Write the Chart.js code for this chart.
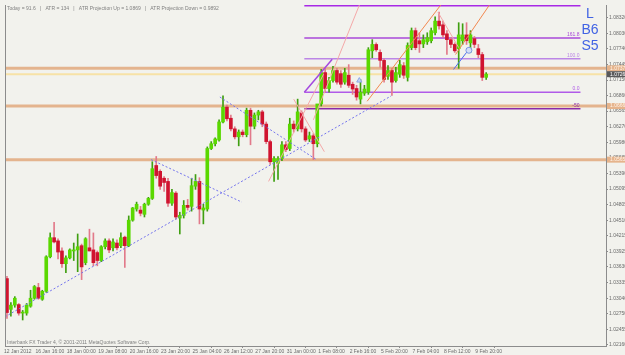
<!DOCTYPE html>
<html>
<head>
<meta charset="utf-8">
<script src="https://cdn.jsdelivr.net/npm/chart.js@4.4.1/dist/chart.umd.min.js"></script>
<style>
html, body { margin: 0; padding: 0; background: #f2f2ed; }
canvas { display: block; }
</style>
</head>
<body>
<canvas id="chart" width="625" height="355"></canvas>
<script>
// H4 bars, 12 Jan 2012 -> 9 Feb 2012
const opens = [
  1.0341, 1.0283, 1.0291, 1.0292, 1.0276, 1.0276, 1.0289, 1.0304, 1.0324, 1.0302,
  1.0317, 1.0382, 1.0418, 1.0412, 1.0393, 1.0369, 1.0380, 1.0393, 1.0395, 1.0403,
  1.0371, 1.0399, 1.0395, 1.0390, 1.0375, 1.0401, 1.0412, 1.0399, 1.0408, 1.0403,
  1.0419, 1.0403, 1.0451, 1.0472, 1.0470, 1.0462, 1.0481, 1.0492, 1.0554, 1.0543,
  1.0530, 1.0524, 1.0483, 1.0502, 1.0455, 1.0460, 1.0479, 1.0477, 1.0515, 1.0524,
  1.0470, 1.0472, 1.0586, 1.0595, 1.0602, 1.0636, 1.0664, 1.0643, 1.0623, 1.0608,
  1.0617, 1.0612, 1.0658, 1.0628, 1.0649, 1.0655, 1.0632, 1.0599, 1.0561, 1.0558,
  1.0567, 1.0593, 1.0586, 1.0632, 1.0623, 1.0653, 1.0623, 1.0604, 1.0610, 1.0595,
  1.0670, 1.0729, 1.0699, 1.0714, 1.0733, 1.0727, 1.0711, 1.0724, 1.0707, 1.0699,
  1.0679, 1.0690, 1.0692, 1.0770, 1.0782, 1.0767, 1.0752, 1.0722, 1.0733, 1.0714,
  1.0726, 1.0742, 1.0720, 1.0776, 1.0808, 1.0789, 1.0783, 1.0787, 1.0789, 1.0804,
  1.0826, 1.0819, 1.0802, 1.0791, 1.0782, 1.0774, 1.0789, 1.0800, 1.0785, 1.0793,
  1.0774, 1.0763, 1.0720
];
const highs = [
  1.0345, 1.0296, 1.0307, 1.0294, 1.0281, 1.0294, 1.0319, 1.0328, 1.0332, 1.0319,
  1.0384, 1.0427, 1.0447, 1.0416, 1.0399, 1.0384, 1.0397, 1.0408, 1.0425, 1.0406,
  1.0418, 1.0434, 1.0427, 1.0393, 1.0403, 1.0416, 1.0416, 1.0416, 1.0414, 1.0427,
  1.0421, 1.0459, 1.0475, 1.0485, 1.0477, 1.0483, 1.0494, 1.0561, 1.0571, 1.0546,
  1.0533, 1.0530, 1.0509, 1.0505, 1.0466, 1.0488, 1.0490, 1.0530, 1.0537, 1.0531,
  1.0481, 1.0589, 1.0599, 1.0606, 1.0640, 1.0685, 1.0668, 1.0649, 1.0627, 1.0621,
  1.0621, 1.0662, 1.0662, 1.0653, 1.0658, 1.0658, 1.0636, 1.0602, 1.0571, 1.0571,
  1.0599, 1.0599, 1.0643, 1.0638, 1.0679, 1.0657, 1.0627, 1.0617, 1.0614, 1.0668,
  1.0735, 1.0737, 1.0720, 1.0741, 1.0737, 1.0733, 1.0737, 1.0744, 1.0711, 1.0705,
  1.0716, 1.0705, 1.0776, 1.0791, 1.0785, 1.0772, 1.0755, 1.0742, 1.0737, 1.0739,
  1.0752, 1.0748, 1.0785, 1.0813, 1.0813, 1.0804, 1.0800, 1.0804, 1.0813, 1.0834,
  1.0843, 1.0826, 1.0808, 1.0795, 1.0785, 1.0823, 1.0821, 1.0823, 1.0808, 1.0797,
  1.0782, 1.0767, 1.0729
];
const lows = [
  1.0266, 1.0270, 1.0287, 1.0272, 1.0263, 1.0272, 1.0287, 1.0302, 1.0302, 1.0300,
  1.0315, 1.0380, 1.0408, 1.0378, 1.0362, 1.0352, 1.0378, 1.0375, 1.0354, 1.0339,
  1.0367, 1.0393, 1.0365, 1.0365, 1.0373, 1.0397, 1.0390, 1.0393, 1.0395, 1.0399,
  1.0362, 1.0401, 1.0449, 1.0468, 1.0459, 1.0457, 1.0479, 1.0490, 1.0530, 1.0509,
  1.0505, 1.0477, 1.0479, 1.0453, 1.0425, 1.0455, 1.0470, 1.0468, 1.0509, 1.0444,
  1.0444, 1.0468, 1.0584, 1.0591, 1.0600, 1.0634, 1.0638, 1.0619, 1.0604, 1.0591,
  1.0608, 1.0608, 1.0593, 1.0623, 1.0640, 1.0627, 1.0595, 1.0556, 1.0524, 1.0528,
  1.0563, 1.0580, 1.0582, 1.0617, 1.0619, 1.0617, 1.0599, 1.0599, 1.0565, 1.0589,
  1.0666, 1.0692, 1.0692, 1.0711, 1.0707, 1.0701, 1.0707, 1.0701, 1.0688, 1.0677,
  1.0670, 1.0686, 1.0688, 1.0757, 1.0769, 1.0739, 1.0711, 1.0716, 1.0686, 1.0711,
  1.0720, 1.0718, 1.0713, 1.0772, 1.0772, 1.0767, 1.0776, 1.0782, 1.0785, 1.0800,
  1.0811, 1.0795, 1.0763, 1.0776, 1.0767, 1.0737, 1.0782, 1.0782, 1.0767, 1.0776,
  1.0757, 1.0714, 1.0716
];
const closes = [
  1.0277, 1.0291, 1.0304, 1.0276, 1.0277, 1.0291, 1.0304, 1.0326, 1.0304, 1.0317,
  1.0382, 1.0418, 1.0410, 1.0391, 1.0369, 1.0380, 1.0395, 1.0395, 1.0401, 1.0363,
  1.0416, 1.0393, 1.0371, 1.0375, 1.0401, 1.0412, 1.0395, 1.0410, 1.0399, 1.0418,
  1.0403, 1.0451, 1.0474, 1.0481, 1.0464, 1.0481, 1.0492, 1.0548, 1.0535, 1.0515,
  1.0522, 1.0483, 1.0503, 1.0457, 1.0460, 1.0479, 1.0475, 1.0516, 1.0524, 1.0472,
  1.0474, 1.0586, 1.0595, 1.0604, 1.0636, 1.0664, 1.0642, 1.0623, 1.0608, 1.0617,
  1.0612, 1.0658, 1.0628, 1.0649, 1.0655, 1.0632, 1.0599, 1.0561, 1.0567, 1.0567,
  1.0593, 1.0584, 1.0632, 1.0623, 1.0655, 1.0623, 1.0602, 1.0610, 1.0595, 1.0670,
  1.0729, 1.0699, 1.0714, 1.0733, 1.0711, 1.0707, 1.0729, 1.0705, 1.0698, 1.0683,
  1.0692, 1.0698, 1.0772, 1.0782, 1.0772, 1.0752, 1.0716, 1.0733, 1.0711, 1.0729,
  1.0744, 1.0724, 1.0780, 1.0808, 1.0776, 1.0783, 1.0791, 1.0795, 1.0808, 1.0826,
  1.0817, 1.0800, 1.0791, 1.0782, 1.0770, 1.0800, 1.0800, 1.0789, 1.0800, 1.0782,
  1.0763, 1.0720, 1.0726
];

const timeTickBars = [0, 8, 16, 24, 32, 40, 48, 56, 64, 72, 80, 88, 96, 104, 112, 120];
const timeTickText = ['12 Jan 2012', '16 Jan 16:00', '18 Jan 00:00', '19 Jan 08:00', '20 Jan 16:00',
  '23 Jan 20:00', '25 Jan 04:00', '26 Jan 12:00', '27 Jan 20:00', '31 Jan 00:00', '1 Feb 08:00',
  '2 Feb 16:00', '5 Feb 20:00', '7 Feb 04:00', '8 Feb 12:00', '9 Feb 20:00'];
const priceTicks = [1.08320, 1.08030, 1.07740, 1.07445, 1.07150, 1.06860, 1.06565, 1.06270, 1.05980,
  1.05685, 1.05390, 1.05095, 1.04805, 1.04510, 1.04215, 1.03925, 1.03630, 1.03335, 1.03040,
  1.02750, 1.02455, 1.02160];

// support / resistance and bid
const srLevels = [1.0737, 1.0666, 1.0565];
const bidLevel = 1.0726;

// fibo expansion
const fibLevels = [1.0855, 1.0794, 1.0755, 1.0692, 1.0661];
const fibNames = ['', '161.8', '100.0', '0.0', '-50'];
const fibColors = ['#a82ae6', '#a848d8', '#bc86e6', '#b05ae8', '#8a2aa8'];
const fibFrom = 75.7, fibTo = 146;

// trendlines: [bar0, price0, bar1, price1]
const blueDotted = [[-0.5, 1.0269, 97.8, 1.0685], [36.7, 1.0565, 59.8, 1.0485], [54.2, 1.0683, 78.8, 1.0565]];
const pinkLines = [[66.6, 1.0524, 80.6, 1.0726], [73.0, 1.0679, 80.8, 1.0580], [78.0, 1.0640, 89.7, 1.0856], [109.7, 1.0843, 115.0, 1.0776]];
const orangeLines = [[91.7, 1.0675, 110.4, 1.0856], [114.2, 1.0763, 122.8, 1.0856]];
const purpleLines = [[75.7, 1.0692, 82.8, 1.0754]];
const blueSolid = [[113.7, 1.0735, 117.0, 1.0767]];

// arrow / signal marks
const arrowMarks = [{ x: 89.7, y: 1.0714 }];
const circleMarks = [{ x: 117.6, y: 1.0771 }];

const headerText = 'Today = 91.6   |   ATR = 134   |   ATR Projection Up = 1.0869   |   ATR Projection Down = 0.9892';
const footerText = 'Interbank FX Trader 4, \u00a9 2001-2011 MetaQuotes Software Corp.';
const signalText = ['L', 'B6', 'S5'];

const bull = opens.map((o, i) => closes[i] >= o);
const wickData = opens.map((o, i) => ({ x: i, y: [lows[i], highs[i]] }));
const bodyData = opens.map((o, i) => ({ x: i, y: [o, closes[i]] }));

const seg = (s, color, width, dash, order) => ({
  type: 'line',
  data: [{ x: s[0], y: s[1] }, { x: s[2], y: s[3] }],
  borderColor: color, borderWidth: width, borderDash: dash || [],
  pointRadius: 0, order: order, fill: false
});

const datasets = [
  { type: 'bar', data: wickData, backgroundColor: bull.map(b => b ? '#3f9f10' : '#e27a8a'),
    barThickness: 1, grouped: false, order: 2 },
  { type: 'bar', data: bodyData, backgroundColor: bull.map(b => b ? '#5ad800' : '#d0142f'),
    barThickness: 3, grouped: false, order: 1, minBarLength: 1 }
];
srLevels.forEach(v => datasets.push(seg([-0.5, v, 152.5, v], '#e4b48e', 3, null, 5)));
datasets.push(seg([-0.5, bidLevel, 152.5, bidLevel], '#f7e2a6', 2, null, 5));
fibLevels.forEach((v, k) => datasets.push(Object.assign(seg([fibFrom, v, fibTo, v], fibColors[k], 1.5, null, 4), { clip: false })));
purpleLines.forEach(s => datasets.push(seg(s, '#a448e0', 1.5, null, 0)));
blueDotted.forEach(s => datasets.push(seg(s, '#7474ee', 1, [2, 2], 0)));
pinkLines.forEach(s => datasets.push(seg(s, '#f4a8a8', 1, null, 0)));
orangeLines.forEach(s => datasets.push(seg(s, '#f28850', 1, null, 0)));
blueSolid.forEach(s => datasets.push(seg(s, '#4a6cf0', 1, null, 0)));
datasets.push({ type: 'line', data: arrowMarks, showLine: false, pointStyle: 'triangle', pointRadius: 3,
  pointBackgroundColor: '#c4d4f4', pointBorderColor: '#8ea8e8', pointBorderWidth: 1, order: 0 });
datasets.push({ type: 'line', data: circleMarks, showLine: false, pointStyle: 'circle', pointRadius: 3,
  pointBackgroundColor: '#d4def6', pointBorderColor: '#7d98e2', pointBorderWidth: 1, order: 0 });

const overlay = {
  id: 'overlay',
  beforeDraw(chart) {
    const c = chart.ctx;
    c.save();
    c.fillStyle = '#f2f2ed';
    c.fillRect(0, 0, chart.width, chart.height);
    c.restore();
  },
  afterDraw(chart) {
    const { ctx, chartArea: a, scales: { x, y } } = chart;
    ctx.save();
    ctx.strokeStyle = '#8c8c8c';
    ctx.lineWidth = 1;
    ctx.beginPath();
    ctx.moveTo(a.left + 0.5, a.top);
    ctx.lineTo(a.left + 0.5, a.bottom);
    ctx.stroke();

    ctx.font = '5px "Liberation Sans"';
    ctx.fillStyle = '#808080';
    ctx.textAlign = 'left';
    ctx.textBaseline = 'top';
    ctx.fillText(headerText, a.left + 2, a.top + 1);
    ctx.textBaseline = 'alphabetic';
    ctx.fillText(footerText, a.left + 2, a.bottom - 2);

    // fibo level names
    ctx.textAlign = 'right';
    fibLevels.forEach((v, k) => {
      if (!fibNames[k]) return;
      ctx.fillStyle = fibColors[k];
      ctx.fillText(fibNames[k], x.getPixelForValue(fibTo) - 1, y.getPixelForValue(v) - 2);
    });

    // signal letters
    ctx.font = '14px "Liberation Sans"';
    ctx.fillStyle = '#4163e4';
    ctx.textAlign = 'center';
    signalText.forEach((t, k) => ctx.fillText(t, a.right - 16, a.top + 13 + k * 16));

    // price boxes on the axis
    ctx.font = '5px "Liberation Sans"';
    ctx.textAlign = 'left';
    ctx.textBaseline = 'middle';
    const box = (v, bg, fg) => {
      const py = y.getPixelForValue(v);
      ctx.fillStyle = bg;
      ctx.fillRect(a.right + 1, py - 3, chart.width - a.right, 6);
      ctx.fillStyle = fg;
      ctx.fillText(v.toFixed(5), a.right + 4, py);
    };
    srLevels.forEach(v => box(v, '#e6b48c', '#fff4ea'));
    box(bidLevel, '#5a5a5a', '#ffffff');
    ctx.restore();
  }
};

new Chart(document.getElementById('chart'), {
  type: 'bar',
  data: { datasets },
  plugins: [overlay],
  options: {
    responsive: false,
    animation: false,
    devicePixelRatio: 1,
    layout: { padding: { left: 2, top: 2, right: 0, bottom: 0 } },
    plugins: { legend: { display: false }, tooltip: { enabled: false } },
    scales: {
      x: {
        type: 'linear', min: -0.5, max: 152.5, offset: false, bounds: 'data',
        afterBuildTicks: s => { s.ticks = timeTickBars.map(v => ({ value: v })); },
        afterFit: s => { s.height = 9; },
        ticks: {
          autoSkip: false, maxRotation: 0, minRotation: 0, align: 'start', labelOffset: -3, padding: 1,
          font: { size: 5, family: 'Liberation Sans' }, color: '#6a6a6a',
          callback: v => timeTickText[timeTickBars.indexOf(v)]
        },
        grid: { drawOnChartArea: false, tickLength: 2, color: '#8c8c8c' },
        border: { color: '#8c8c8c' }
      },
      y: {
        type: 'linear', position: 'right', min: 1.0214, max: 1.08563, bounds: 'data',
        afterBuildTicks: s => { s.ticks = priceTicks.map(v => ({ value: v })); },
        afterFit: s => { s.width = 19; },
        ticks: {
          autoSkip: false, padding: 1,
          font: { size: 5, family: 'Liberation Sans' }, color: '#6a6a6a',
          callback: v => v.toFixed(5)
        },
        grid: { drawOnChartArea: false, tickLength: 2, color: '#8c8c8c' },
        border: { color: '#8c8c8c' }
      }
    }
  }
});
</script>
</body>
</html>
